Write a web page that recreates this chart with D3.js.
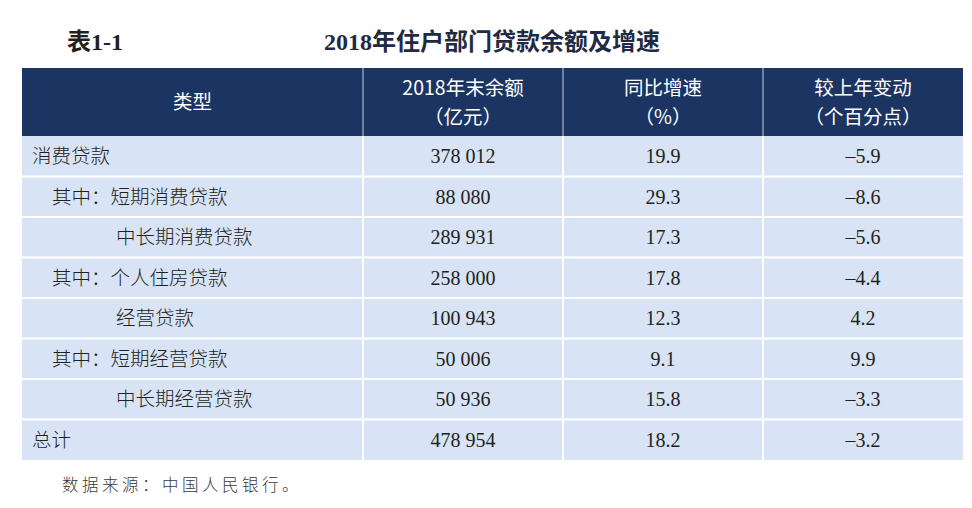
<!DOCTYPE html>
<html><head><meta charset="utf-8">
<script src="https://cdn.jsdelivr.net/npm/d3@7"></script>
<style>
html,body{margin:0;padding:0;background:#fff;}
svg{display:block;}
</style></head>
<body>
<script>
const tableNo = "表1-1";
const title = "2018年住户部门贷款余额及增速";
const headers = [["类型"], ["2018年末余额", "（亿元）"], ["同比增速", "（%）"], ["较上年变动", "（个百分点）"]];
const categories = ["消费贷款", "其中：短期消费贷款", "中长期消费贷款", "其中：个人住房贷款", "经营贷款", "其中：短期经营贷款", "中长期经营贷款", "总计"];
const levels = [0, 1, 2, 1, 2, 1, 2, 0];
const balances = ["378 012", "88 080", "289 931", "258 000", "100 943", "50 006", "50 936", "478 954"];
const growth = ["19.9", "29.3", "17.3", "17.8", "12.3", "9.1", "15.8", "18.2"];
const change = ["–5.9", "–8.6", "–5.6", "–4.4", "4.2", "9.9", "–3.3", "–3.2"];
const source = "数据来源：中国人民银行。";

const W = 972, H = 508;
const svg = d3.select("body").append("svg").attr("width", W).attr("height", H);

const cjk = "'Noto Sans CJK SC', sans-serif";
const serif = "'Liberation Serif', 'Noto Sans CJK SC', serif";
const mixed = "'Liberation Serif', 'Noto Sans CJK SC', serif";

const left = 22, right = 963;
const colEdges = [22, 363, 563, 763, 963];
const headTop = 68, headBottom = 136, bodyBottom = 460;

const rowScale = d3.scaleBand().domain(d3.range(categories.length)).range([headBottom, bodyBottom]).paddingInner(0);

// title
svg.append("text").attr("x", 67).attr("y", 50).text(tableNo)
  .attr("font-family", mixed).attr("font-weight", "bold").attr("font-size", 24).attr("fill", "#231f20");
svg.append("text").attr("x", 492).attr("y", 50).attr("text-anchor", "middle").text(title)
  .attr("font-family", mixed).attr("font-weight", "bold").attr("font-size", 24).attr("fill", "#1f2a44");

// header
svg.append("rect").attr("x", left).attr("y", headTop).attr("width", right - left).attr("height", headBottom - headTop).attr("fill", "#1c3462");
headers.forEach((h, i) => {
  const cx = (colEdges[i] + colEdges[i + 1]) / 2;
  const cy = (headTop + headBottom) / 2;
  const lh = 29;
  h.forEach((line, j) => {
    svg.append("text").attr("x", cx).attr("y", cy + (j - (h.length - 1) / 2) * lh)
      .attr("dy", "0.36em").attr("text-anchor", "middle").text(line)
      .attr("font-family", cjk).attr("font-size", 19.5).attr("fill", "#ffffff");
  });
  if (i > 0) {
    svg.append("line").attr("x1", colEdges[i]).attr("x2", colEdges[i]).attr("y1", headTop).attr("y2", headBottom)
      .attr("stroke", "#8a9bbb").attr("stroke-width", 1.5);
  }
});

// body
svg.append("rect").attr("x", left).attr("y", headBottom).attr("width", right - left).attr("height", bodyBottom - headBottom).attr("fill", "#d8e4f5");

const rows = svg.selectAll("g.row").data(categories).join("g").attr("class", "row");
rows.each(function(cat, i) {
  const g = d3.select(this);
  const y = rowScale(i) + rowScale.bandwidth() / 2;
  const indent = [32, 52, 116][levels[i]];
  g.append("text").attr("x", indent).attr("y", y).attr("dy", "0.36em").text(cat)
    .attr("font-family", cjk).attr("font-weight", 300).attr("font-size", 19.5).attr("fill", "#231f20");
  [balances[i], growth[i], change[i]].forEach((v, k) => {
    g.append("text").attr("x", (colEdges[k + 1] + colEdges[k + 2]) / 2).attr("y", y).attr("dy", "0.34em")
      .attr("text-anchor", "middle").text(v)
      .attr("font-family", serif).attr("font-size", 20).attr("fill", "#231f20");
  });
});
// white separators
d3.range(1, categories.length).forEach(i => {
  svg.append("line").attr("x1", left).attr("x2", right).attr("y1", rowScale(i)).attr("y2", rowScale(i))
    .attr("stroke", "#ffffff").attr("stroke-width", 2);
});
colEdges.slice(1, 4).forEach(x => {
  svg.append("line").attr("x1", x).attr("x2", x).attr("y1", headBottom).attr("y2", bodyBottom)
    .attr("stroke", "#ffffff").attr("stroke-width", 2);
});

// source
svg.append("text").attr("x", 62).attr("y", 491).text(source)
  .attr("font-family", cjk).attr("font-weight", 300).attr("font-size", 16.5).attr("letter-spacing", 3.5).attr("fill", "#3a3a3a");
</script>
</body></html>
